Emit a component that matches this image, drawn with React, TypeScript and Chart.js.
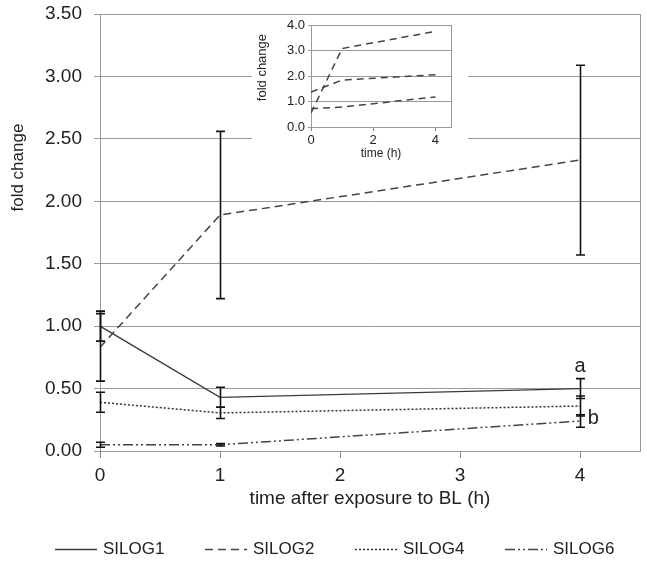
import React, { useEffect, useRef } from 'react';
import { Chart, registerables } from 'chart.js';

Chart.register(...registerables);

const FONT = '"Liberation Sans", Arial, sans-serif';
Chart.defaults.font.family = FONT;

// ---------- main chart data ----------
const TIMES = [0, 1, 4];
const SERIES_NAMES = ['SILOG1', 'SILOG2', 'SILOG4', 'SILOG6'];
const SILOG1 = [1.0, 0.43, 0.5];
const SILOG1_ERR = [0.12, 0.08, 0.08];
const SILOG2 = [0.83, 1.89, 2.33];
const SILOG2_ERR = [0.27, 0.67, 0.76];
const SILOG4 = [0.39, 0.305, 0.36];
const SILOG4_ERR = [0.08, 0.045, 0.08];
const SILOG6 = [0.05, 0.05, 0.24];
const SILOG6_ERR = [0.02, 0.01, 0.05];

const SIG_LABELS = ['a', 'b'];
const SIG_X = [4, 4.11];
const SIG_Y = [0.68, 0.26];

const X_TITLE = 'time after exposure to BL (h)';
const Y_TITLE = 'fold change';

// ---------- inset data ----------
const INSET_TIMES = [0, 1, 4];
const INSET_A = [0.55, 3.08, 3.75];
const INSET_B = [1.37, 1.84, 2.05];
const INSET_C = [0.72, 0.78, 1.18];
const INSET_X_TITLE = 'time (h)';
const INSET_Y_TITLE = 'fold change';

const pts = (xs: number[], ys: number[]) => xs.map((x, i) => ({ x, y: ys[i] }));

const errorBarsPlugin = {
  id: 'errorBars',
  afterDatasetsDraw(chart: any, _args: any, opts: any) {
    if (!opts || !opts.enabled) return;
    const { ctx } = chart;
    const xs = chart.scales.x;
    const ys = chart.scales.y;
    ctx.save();
    ctx.strokeStyle = opts.color;
    ctx.lineWidth = opts.width;
    ctx.setLineDash([]);
    chart.data.datasets.forEach((ds: any) => {
      if (!ds.errors) return;
      ds.data.forEach((p: any, j: number) => {
        const e = ds.errors[j];
        const x = Math.round(xs.getPixelForValue(p.x)) + 0.5;
        const y1 = ys.getPixelForValue(p.y + e);
        const y2 = ys.getPixelForValue(p.y - e);
        ctx.beginPath();
        ctx.moveTo(x, y1);
        ctx.lineTo(x, y2);
        ctx.moveTo(x - opts.cap, y1);
        ctx.lineTo(x + opts.cap, y1);
        ctx.moveTo(x - opts.cap, y2);
        ctx.lineTo(x + opts.cap, y2);
        ctx.stroke();
      });
    });
    ctx.restore();
  },
};

const framePlugin = {
  id: 'frame',
  beforeDatasetsDraw(chart: any, _args: any, opts: any) {
    if (!opts || !opts.enabled) return;
    const { ctx, chartArea } = chart;
    ctx.save();
    ctx.strokeStyle = opts.color;
    ctx.lineWidth = 1;
    ctx.strokeRect(
      Math.round(chartArea.left) + 0.5,
      Math.round(chartArea.top) + 0.5,
      Math.round(chartArea.right - chartArea.left),
      Math.round(chartArea.bottom - chartArea.top)
    );
    ctx.restore();
  },
};

const sideTitlePlugin = {
  id: 'sideTitle',
  afterDraw(chart: any, _args: any, opts: any) {
    if (!opts || !opts.text) return;
    const { ctx } = chart;
    const ys = chart.scales.y;
    ctx.save();
    ctx.translate(opts.x, ys.getPixelForValue(opts.value));
    ctx.rotate(-Math.PI / 2);
    ctx.font = `${opts.size}px ${FONT}`;
    ctx.fillStyle = opts.color;
    ctx.textAlign = 'center';
    ctx.textBaseline = 'middle';
    ctx.fillText(opts.text, 0, 0);
    ctx.restore();
  },
};

const sigLabelsPlugin = {
  id: 'sigLabels',
  afterDatasetsDraw(chart: any, _args: any, opts: any) {
    if (!opts || !opts.labels) return;
    const { ctx } = chart;
    const xs = chart.scales.x;
    const ys = chart.scales.y;
    ctx.save();
    ctx.font = `${opts.size}px ${FONT}`;
    ctx.fillStyle = opts.color;
    ctx.textAlign = 'center';
    ctx.textBaseline = 'middle';
    opts.labels.forEach((t: string, i: number) => {
      ctx.fillText(t, xs.getPixelForValue(opts.xs[i]), ys.getPixelForValue(opts.ys[i]));
    });
    ctx.restore();
  },
};

const lineLegendPlugin = {
  id: 'lineLegend',
  afterDraw(chart: any, _args: any, opts: any) {
    if (!opts || !opts.enabled) return;
    const { ctx } = chart;
    ctx.save();
    ctx.font = `${opts.size}px ${FONT}`;
    ctx.textAlign = 'left';
    ctx.textBaseline = 'middle';
    chart.data.datasets.forEach((ds: any, i: number) => {
      const x = opts.x + i * opts.step;
      ctx.strokeStyle = ds.borderColor;
      ctx.lineWidth = ds.borderWidth;
      ctx.setLineDash(ds.borderDash || []);
      ctx.beginPath();
      ctx.moveTo(x, opts.y + 0.5);
      ctx.lineTo(x + opts.sample, opts.y + 0.5);
      ctx.stroke();
      ctx.setLineDash([]);
      ctx.fillStyle = opts.color;
      ctx.fillText(ds.label, x + opts.sample + opts.gap, opts.y);
    });
    ctx.restore();
  },
};

Chart.register(errorBarsPlugin, framePlugin, sideTitlePlugin, sigLabelsPlugin, lineLegendPlugin);

const W = 647;
const H = 564;
const INSET = { left: 252, top: 16, width: 216, height: 150 };

export default function App() {
  const mainRef = useRef<HTMLCanvasElement | null>(null);
  const insetRef = useRef<HTMLCanvasElement | null>(null);

  useEffect(() => {
    const lineBase = { pointRadius: 0, pointHoverRadius: 0, fill: false, tension: 0 };
    const main = new Chart(mainRef.current as HTMLCanvasElement, {
      type: 'line',
      data: {
        datasets: [
          { ...lineBase, label: SERIES_NAMES[0], data: pts(TIMES, SILOG1), errors: SILOG1_ERR, borderColor: '#3a3a3a', backgroundColor: '#3a3a3a', borderWidth: 1.3, borderDash: [] },
          { ...lineBase, label: SERIES_NAMES[1], data: pts(TIMES, SILOG2), errors: SILOG2_ERR, borderColor: '#444', backgroundColor: '#444', borderWidth: 1.5, borderDash: [8, 5] },
          { ...lineBase, label: SERIES_NAMES[2], data: pts(TIMES, SILOG4), errors: SILOG4_ERR, borderColor: '#333', backgroundColor: '#333', borderWidth: 1.5, borderDash: [2, 2] },
          { ...lineBase, label: SERIES_NAMES[3], data: pts(TIMES, SILOG6), errors: SILOG6_ERR, borderColor: '#444', backgroundColor: '#444', borderWidth: 1.5, borderDash: [10, 3, 2, 3, 2, 3] },
        ] as any,
      },
      options: {
        responsive: false,
        animation: false,
        events: [],
        layout: { padding: { left: 0, right: 7, top: 14, bottom: 56 } },
        scales: {
          x: {
            type: 'linear',
            min: 0,
            max: 4.5,
            ticks: { stepSize: 1, includeBounds: false, font: { size: 19 }, color: '#222', padding: 6 },
            grid: { drawOnChartArea: false, drawTicks: true, tickLength: 7, color: '#888' },
            border: { color: '#888', width: 1 },
            title: { display: true, text: X_TITLE, font: { size: 19 }, color: '#222', padding: { top: 0, bottom: -2 } },
            afterFit: (s: any) => { s.height = 57; },
          },
          y: {
            type: 'linear',
            min: 0,
            max: 3.5,
            ticks: { stepSize: 0.5, callback: (v: any) => Number(v).toFixed(2), font: { size: 19, lineHeight: 0.1 }, color: '#222', padding: 12 },
            grid: { color: '#999', tickLength: 6, lineWidth: 1 },
            border: { color: '#888', width: 1 },
            afterFit: (s: any) => { s.width = 100; },
          },
        } as any,
        plugins: {
          legend: { display: false },
          tooltip: { enabled: false },
          errorBars: { enabled: true, color: '#111', width: 1.6, cap: 4.5 },
          frame: { enabled: true, color: '#999' },
          sideTitle: { text: Y_TITLE, x: 18, value: 2.27, size: 17, color: '#222' },
          sigLabels: { labels: SIG_LABELS, xs: SIG_X, ys: SIG_Y, size: 20, color: '#222' },
          lineLegend: { enabled: true, x: 55, step: 150, y: 549, sample: 42, gap: 6, size: 17, color: '#222' },
        } as any,
      },
    });

    const insetBase = { ...lineBase, borderColor: '#444', backgroundColor: '#444', borderWidth: 1.5, borderDash: [7, 5] };
    const inset = new Chart(insetRef.current as HTMLCanvasElement, {
      type: 'line',
      data: {
        datasets: [
          { ...insetBase, label: 'A', data: pts(INSET_TIMES, INSET_A) },
          { ...insetBase, label: 'B', data: pts(INSET_TIMES, INSET_B) },
          { ...insetBase, label: 'C', data: pts(INSET_TIMES, INSET_C) },
        ] as any,
      },
      options: {
        responsive: false,
        animation: false,
        events: [],
        layout: { padding: { left: 0, right: 17, top: 9, bottom: 0 } },
        scales: {
          x: {
            type: 'linear',
            min: 0,
            max: 4.5,
            ticks: { stepSize: 2, includeBounds: false, font: { size: 13 }, color: '#222', padding: 2 },
            grid: { drawOnChartArea: false, drawTicks: true, tickLength: 4, color: '#888' },
            border: { color: '#888', width: 1 },
            title: { display: true, text: INSET_X_TITLE, font: { size: 12 }, color: '#222', padding: { top: 0, bottom: 5 } },
            afterFit: (s: any) => { s.height = 39; },
          },
          y: {
            type: 'linear',
            min: 0,
            max: 4,
            ticks: { stepSize: 1, callback: (v: any) => Number(v).toFixed(1), font: { size: 13, lineHeight: 0.1 }, color: '#222', padding: 3 },
            grid: { color: '#999', tickLength: 3 },
            border: { color: '#888', width: 1 },
            afterFit: (s: any) => { s.width = 59; },
          },
        } as any,
        plugins: {
          legend: { display: false },
          tooltip: { enabled: false },
          frame: { enabled: true, color: '#999' },
          sideTitle: { text: INSET_Y_TITLE, x: 10.5, value: 2.33, size: 13, color: '#222' },
        } as any,
      },
    });

    return () => {
      main.destroy();
      inset.destroy();
    };
  }, []);

  return (
    <div style={{ position: 'absolute', left: 0, top: 0, width: W, height: H, background: '#fff' }}>
      <canvas ref={mainRef} width={W} height={H} style={{ position: 'absolute', left: 0, top: 0, width: W, height: H }} />
      <div style={{ position: 'absolute', left: INSET.left, top: INSET.top, width: INSET.width, height: INSET.height, background: '#fff' }}>
        <canvas ref={insetRef} width={INSET.width} height={INSET.height} style={{ width: INSET.width, height: INSET.height }} />
      </div>
    </div>
  );
}
